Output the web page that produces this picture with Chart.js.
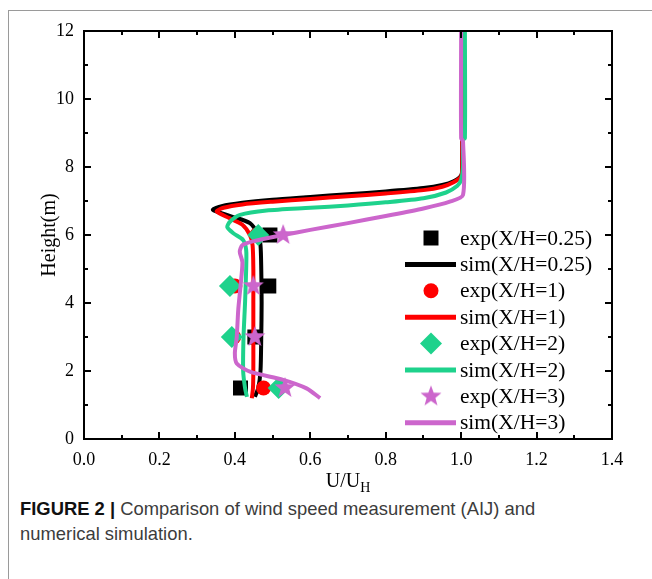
<!DOCTYPE html>
<html>
<head>
<meta charset="utf-8">
<script src="https://cdn.jsdelivr.net/npm/chart.js@4.4.0/dist/chart.umd.min.js"></script>
<style>
    html, body { margin:0; padding:0; background:#fff; }
    body { width:652px; height:579px; position:relative; overflow:hidden; }
    #frame { position:absolute; left:8px; top:10px; right:0; bottom:0; border-left:1px solid #9a9a9a; border-top:1px solid #9a9a9a; }
    #wrap { position:absolute; left:0; top:0; width:652px; height:495px; }
    #caption { position:absolute; left:20px; top:496px; width:630px; font-family:"Liberation Sans", Arial, sans-serif; font-size:18.4px; line-height:25px; color:#3c3c3c; }
    #caption b { color:#111; }
</style>
</head>
<body>
<div id="frame"></div>
<div id="wrap"><canvas id="chart" width="652" height="495"></canvas></div>
<div id="caption"><b>FIGURE 2 |</b> Comparison of wind speed measurement (AIJ) and<br>numerical simulation.</div>
<script>
"use strict";

// measured heights of the exp points
const expHeights = [1.5, 3.0, 4.5, 6.0];
const exp025 = [0.415, 0.453, 0.490, 0.493];
const exp1   = [0.476, 0.397, 0.400, 0.458];
const exp2   = [0.516, 0.392, 0.387, 0.462];
const exp3   = [0.533, 0.453, 0.449, 0.528];

// simulated profiles (U/UH against height)
const simH025 = [1.24, 1.5, 2.0, 3.0, 4.0, 5.0, 5.7, 6.0, 6.35, 6.55, 6.74, 6.85, 6.95, 7.04, 7.12, 7.2, 7.28, 7.38, 7.47, 7.58, 7.75, 8.0, 12];
const simU025 = [0.453, 0.462, 0.468, 0.470, 0.471, 0.470, 0.468, 0.462, 0.440, 0.390, 0.342, 0.365, 0.420, 0.500, 0.600, 0.700, 0.800, 0.900, 0.950, 0.980, 1.000, 1.003, 1.003];

const simH1 = [1.2, 1.5, 2.0, 3.0, 4.0, 5.0, 5.7, 6.0, 6.3, 6.5, 6.69, 6.8, 6.9, 6.98, 7.06, 7.14, 7.22, 7.32, 7.42, 7.55, 7.72, 8.0, 12];
const simU1 = [0.445, 0.448, 0.449, 0.449, 0.449, 0.449, 0.447, 0.440, 0.420, 0.385, 0.352, 0.370, 0.420, 0.500, 0.600, 0.700, 0.800, 0.900, 0.950, 0.980, 1.000, 1.003, 1.003];

const simH2 = [1.24, 1.5, 2.0, 3.0, 4.0, 5.0, 5.56, 5.85, 6.05, 6.23, 6.39, 6.59, 6.72, 6.8, 6.87, 6.96, 7.08, 7.25, 7.45, 7.62, 8.0, 8.8, 8.85, 12];
const simU2 = [0.432, 0.427, 0.422, 0.423, 0.427, 0.430, 0.430, 0.422, 0.396, 0.380, 0.387, 0.414, 0.484, 0.600, 0.700, 0.800, 0.900, 0.960, 0.990, 1.000, 1.005, 1.005, 1.010, 1.010];

const simH3 = [1.2, 1.49, 1.74, 1.98, 2.22, 2.52, 3.0, 3.8, 4.5, 5.2, 5.51, 5.7, 5.82, 6.0, 6.15, 6.35, 6.56, 6.78, 6.98, 7.18, 8.75, 8.85, 12];
const simU3 = [0.626, 0.590, 0.528, 0.440, 0.405, 0.400, 0.405, 0.409, 0.415, 0.420, 0.413, 0.420, 0.450, 0.528, 0.600, 0.700, 0.800, 0.900, 0.970, 1.005, 1.005, 1.000, 1.000];

const labels = ['exp(X/H=0.25)', 'sim(X/H=0.25)', 'exp(X/H=1)', 'sim(X/H=1)', 'exp(X/H=2)', 'sim(X/H=2)', 'exp(X/H=3)', 'sim(X/H=3)'];
const colors = ['#000000', '#ff0000', '#1ed28c', '#cc66cc'];

const serif = '"Liberation Serif", "Times New Roman", serif';

// pairs two arrays into {x,y} points
const toPoints = (us, hs) => us.map((u, i) => ({x: u, y: hs[i]}));

// filled five point star, Chart.js only has the stroked one
const makeStar = (color, outer, inner) => {
    let c = document.createElement('canvas');
    c.width = c.height = outer * 2 + 2;
    let g = c.getContext('2d');
    let cx = outer + 1, cy = outer + 1;
    g.beginPath();
    for (let i = 0; i < 10; i++) {
        let r = i % 2 ? inner : outer;
        let a = -Math.PI / 2 + i * Math.PI / 5;
        g.lineTo(cx + r * Math.cos(a), cy + r * Math.sin(a));
    }
    g.closePath();
    g.fillStyle = color;
    g.fill();
    return c;
};
const star = makeStar(colors[3], 11, 4.6);

const expSet = (label, us, color, style, radius) => ({
    label, data: toPoints(us, expHeights), showLine: false,
    pointStyle: style, pointRadius: radius, pointBackgroundColor: color,
    pointBorderColor: color, pointBorderWidth: 0, isExp: true
});
const simSet = (label, us, hs, color) => ({
    label, data: toPoints(us, hs), showLine: true, borderColor: color,
    borderWidth: 4, pointRadius: 0, tension: 0.25, borderJoinStyle: 'round', isExp: false
});

let datasets = [
    expSet(labels[0], exp025, colors[0], 'rect', 10.6),
    simSet(labels[1], simU025, simH025, colors[0]),
    expSet(labels[2], exp1, colors[1], 'circle', 7.5),
    simSet(labels[3], simU1, simH1, colors[1]),
    expSet(labels[4], exp2, colors[2], 'rectRot', 11),
    simSet(labels[5], simU2, simH2, colors[2]),
    expSet(labels[6], exp3, colors[3], star, 11),
    simSet(labels[7], simU3, simH3, colors[3])
];
// later series on top, like the original plot
datasets.forEach((d, i) => d.order = datasets.length - i);

const drawMarker = (ctx, d, x, y) => {
    let r = d.pointRadius;
    ctx.fillStyle = d.pointBackgroundColor;
    if (d.pointStyle instanceof HTMLCanvasElement) {
        ctx.drawImage(d.pointStyle, x - d.pointStyle.width / 2, y - d.pointStyle.height / 2);
        return;
    }
    ctx.beginPath();
    if (d.pointStyle === 'rect') {
        let s = r * Math.SQRT1_2;
        ctx.rect(x - s, y - s, 2 * s, 2 * s);
    } else if (d.pointStyle === 'rectRot') {
        ctx.moveTo(x, y - r); ctx.lineTo(x + r, y); ctx.lineTo(x, y + r); ctx.lineTo(x - r, y);
        ctx.closePath();
    } else {
        ctx.arc(x, y, r, 0, Math.PI * 2);
    }
    ctx.fill();
};

// axes box, inward ticks on all sides, titles and the legend
const framePlugin = {
    id: 'framePlugin',
    afterDatasetsDraw(chart) {
        const ctx = chart.ctx;
        const a = chart.chartArea;
        const xs = chart.scales.x, ys = chart.scales.y;
        ctx.save();
        ctx.strokeStyle = '#000';
        ctx.lineWidth = 2;
        ctx.lineCap = 'butt';
        ctx.beginPath();
        for (let i = 0; i <= 14; i++) {
            let px = Math.round(xs.getPixelForValue(i / 10));
            let len = i % 2 ? 4 : 7;
            ctx.moveTo(px, a.bottom); ctx.lineTo(px, a.bottom - len);
            ctx.moveTo(px, a.top); ctx.lineTo(px, a.top + len);
        }
        for (let i = 0; i <= 12; i++) {
            let py = Math.round(ys.getPixelForValue(i));
            let len = i % 2 ? 4 : 7;
            ctx.moveTo(a.left, py); ctx.lineTo(a.left + len, py);
            ctx.moveTo(a.right, py); ctx.lineTo(a.right - len, py);
        }
        ctx.stroke();
        ctx.strokeRect(a.left, a.top, a.right - a.left, a.bottom - a.top);

        // axis titles
        ctx.fillStyle = '#000';
        ctx.textBaseline = 'alphabetic';
        let main = 'U/U';
        ctx.font = '20px ' + serif;
        let w1 = ctx.measureText(main).width;
        ctx.font = '14px ' + serif;
        let w2 = ctx.measureText('H').width;
        let tx = (a.left + a.right) / 2 - (w1 + w2) / 2;
        ctx.font = '20px ' + serif;
        ctx.textAlign = 'left';
        ctx.fillText(main, tx, 487);
        ctx.font = '14px ' + serif;
        ctx.fillText('H', tx + w1, 492);

        ctx.save();
        ctx.translate(50, (a.top + a.bottom) / 2);
        ctx.rotate(-Math.PI / 2);
        ctx.font = '20px ' + serif;
        ctx.textAlign = 'center';
        ctx.textBaseline = 'middle';
        ctx.fillText('Height(m)', 0, 0);
        ctx.restore();

        // legend
        ctx.font = '21.5px ' + serif;
        ctx.textAlign = 'left';
        ctx.textBaseline = 'middle';
        chart.data.datasets.forEach((d, i) => {
            let y = 238 + i * 26.4;
            if (d.isExp) {
                drawMarker(ctx, d, 431, y);
            } else {
                ctx.strokeStyle = d.borderColor;
                ctx.lineWidth = 5;
                ctx.beginPath();
                ctx.moveTo(405, y); ctx.lineTo(456, y);
                ctx.stroke();
            }
            ctx.fillStyle = '#000';
            ctx.fillText(d.label, 460, y + 1);
        });
        ctx.restore();
    }
};

new Chart(document.getElementById('chart'), {
    type: 'scatter',
    data: { datasets },
    plugins: [framePlugin],
    options: {
        responsive: false,
        animation: false,
        devicePixelRatio: 1,
        layout: { padding: { left: 0, right: 40, top: 31, bottom: 0 } },
        plugins: { legend: { display: false }, tooltip: { enabled: false } },
        scales: {
            x: {
                type: 'linear', min: 0, max: 1.4,
                grid: { display: false, drawTicks: false },
                border: { display: false },
                ticks: { stepSize: 0.2, padding: 10, color: '#000', font: { family: serif, size: 18 },
                    callback: v => v.toFixed(1) },
                afterFit: s => { s.height = 56; }
            },
            y: {
                type: 'linear', min: 0, max: 12,
                grid: { display: false, drawTicks: false },
                border: { display: false },
                ticks: { stepSize: 2, padding: 10, color: '#000', font: { family: serif, size: 18 } },
                afterFit: s => { s.width = 84; }
            }
        }
    }
});
</script>
</body>
</html>
